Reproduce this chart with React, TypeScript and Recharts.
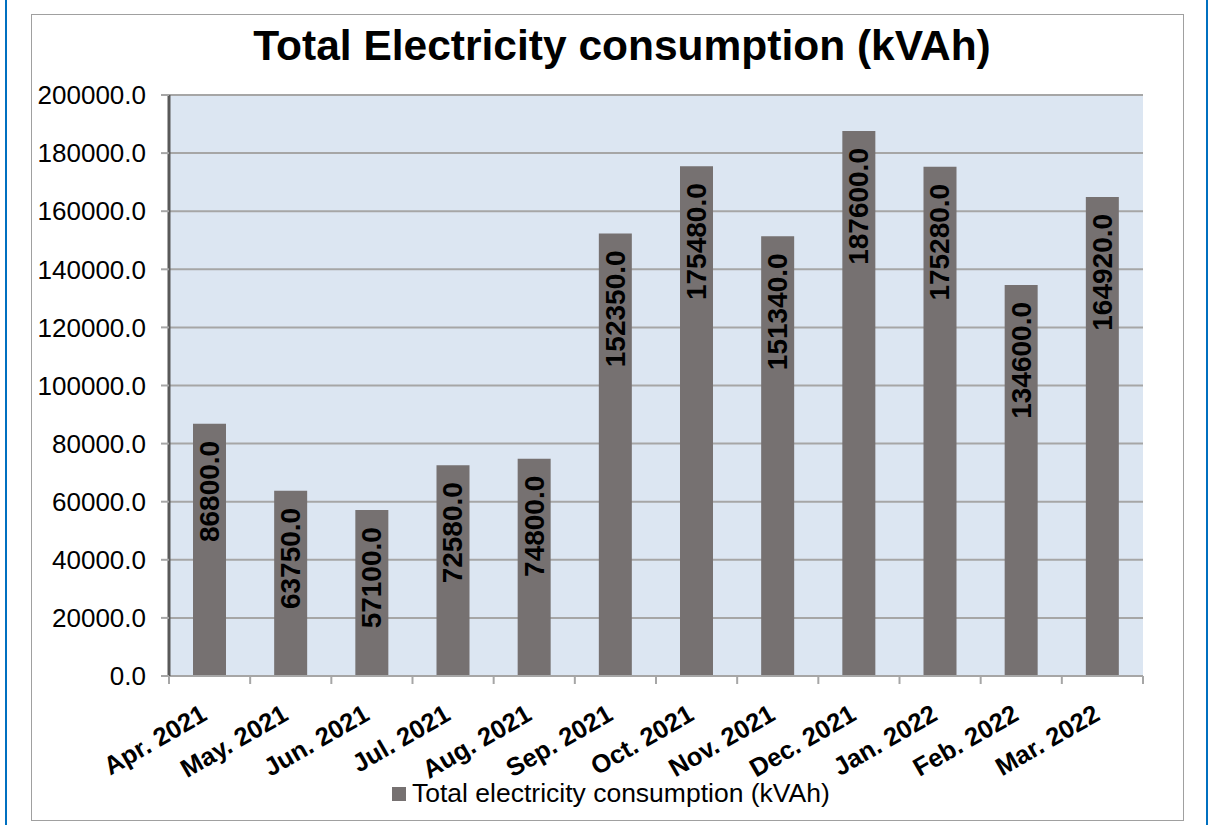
import React from "react";
import {
  Bar,
  BarChart,
  CartesianGrid,
  LabelList,
  Legend,
  XAxis,
  YAxis,
} from "recharts";

const months = [
  "Apr. 2021",
  "May. 2021",
  "Jun. 2021",
  "Jul. 2021",
  "Aug. 2021",
  "Sep. 2021",
  "Oct. 2021",
  "Nov. 2021",
  "Dec. 2021",
  "Jan. 2022",
  "Feb. 2022",
  "Mar. 2022",
];

const consumption = [
  86800, 63750, 57100, 72580, 74800, 152350, 175480, 151340, 187600, 175280,
  134600, 164920,
];

const yTicks = [0, 20000, 40000, 60000, 80000, 100000, 120000, 140000, 160000, 180000, 200000];

const seriesName = "Total electricity consumption (kVAh)";
const title = "Total Electricity consumption (kVAh)";

const data = months.map((month, i) => ({ month, value: consumption[i] }));

const FONT = '"Liberation Sans", Arial, sans-serif';
const BAR_COLOR = "#767171";
const GRID = "#a6a6a6";

function MonthTick(props: any) {
  const { x, y, payload, index } = props;
  const half = payload?.offset ?? 40.6;
  return (
    <g>
      <line x1={x - half} y1={y} x2={x - half} y2={y + 8} stroke={GRID} strokeWidth={2} />
      {index === months.length - 1 && (
        <line x1={x + half} y1={y} x2={x + half} y2={y + 8} stroke={GRID} strokeWidth={2} />
      )}
      <g transform={`translate(${x - 1}, ${y + 43}) rotate(-30)`}>
        <text
          x={0}
          y={0}
          textAnchor="end"
          fontFamily={FONT}
          fontWeight="bold"
          fontSize={25.5}
          fill="#000"
        >
          {payload.value}
        </text>
      </g>
    </g>
  );
}

function BarValue(props: any) {
  const { x, y, width, value } = props;
  const cx = x + width / 2;
  const ty = y + 17;
  return (
    <text
      x={cx}
      y={ty}
      transform={`rotate(-90, ${cx}, ${ty})`}
      textAnchor="end"
      dominantBaseline="central"
      fontFamily={FONT}
      fontWeight="bold"
      fontSize={28}
      fill="#000"
    >
      {Number(value).toFixed(1)}
    </text>
  );
}

function LegendContent() {
  return (
    <div style={{ display: "flex", alignItems: "center", fontFamily: FONT, fontSize: 26.5 }}>
      <span
        style={{ width: 14, height: 14, background: BAR_COLOR, display: "inline-block", marginRight: 6 }}
      />
      <span style={{ color: "#000" }}>{seriesName}</span>
    </div>
  );
}

export default function App() {
  return (
    <div
      style={{
        position: "fixed",
        left: 0,
        top: 0,
        width: 1210,
        height: 825,
        background: "#fff",
        overflow: "hidden",
      }}
    >
      <div style={{ position: "absolute", left: 5, top: 0, width: 2, height: 825, background: "#0070c0" }} />
      <div style={{ position: "absolute", left: 1206, top: 0, width: 2, height: 825, background: "#0070c0" }} />
      <div
        style={{
          position: "absolute",
          left: 31,
          top: 14,
          width: 1151,
          height: 805,
          border: "1px solid #a0a0a0",
        }}
      />
      <div
        style={{
          position: "absolute",
          left: 0,
          top: 22,
          width: 1244,
          textAlign: "center",
          fontFamily: FONT,
          fontWeight: "bold",
          fontSize: 42.5,
          color: "#000",
        }}
      >
        {title}
      </div>
      <div style={{ position: "absolute", left: 0, top: 0 }}>
        <BarChart
          width={1210}
          height={825}
          data={data}
          margin={{ top: 95, right: 67, left: 29, bottom: 0 }}
          barSize={33}
        >
          <CartesianGrid
            vertical={false}
            stroke={GRID}
            strokeWidth={2}
            fill="#dce6f2"
            fillOpacity={1}
          />
          <XAxis
            dataKey="month"
            height={149}
            interval={0}
            tickLine={false}
            tickSize={0}
            tickMargin={0}
            axisLine={{ stroke: GRID, strokeWidth: 2 }}
            tick={<MonthTick />}
          />
          <XAxis
            xAxisId="top"
            dataKey="month"
            orientation="top"
            height={0}
            tick={false}
            tickLine={false}
            axisLine={{ stroke: "#000", strokeWidth: 2 }}
          />
          <YAxis
            width={140}
            domain={[0, 200000]}
            ticks={yTicks}
            interval={0}
            tickFormatter={(v: number) => v.toFixed(1)}
            tickSize={8}
            tickMargin={15}
            tickLine={{ stroke: GRID, strokeWidth: 2 }}
            axisLine={{ stroke: "#595959", strokeWidth: 3 }}
            tick={{ fill: "#000", fontSize: 26, fontFamily: FONT }}
          />
          <YAxis
            yAxisId="right"
            orientation="right"
            width={0}
            domain={[0, 200000]}
            tick={false}
            tickLine={false}
            axisLine={{ stroke: "#000", strokeWidth: 2 }}
          />
          <Legend
            layout="horizontal"
            verticalAlign="middle"
            align="center"
            wrapperStyle={{ top: 778, left: 392, width: "auto" }}
            content={<LegendContent />}
          />
          <Bar dataKey="value" name={seriesName} fill={BAR_COLOR} isAnimationActive={false}>
            <LabelList dataKey="value" content={<BarValue />} />
          </Bar>
        </BarChart>
      </div>
    </div>
  );
}
